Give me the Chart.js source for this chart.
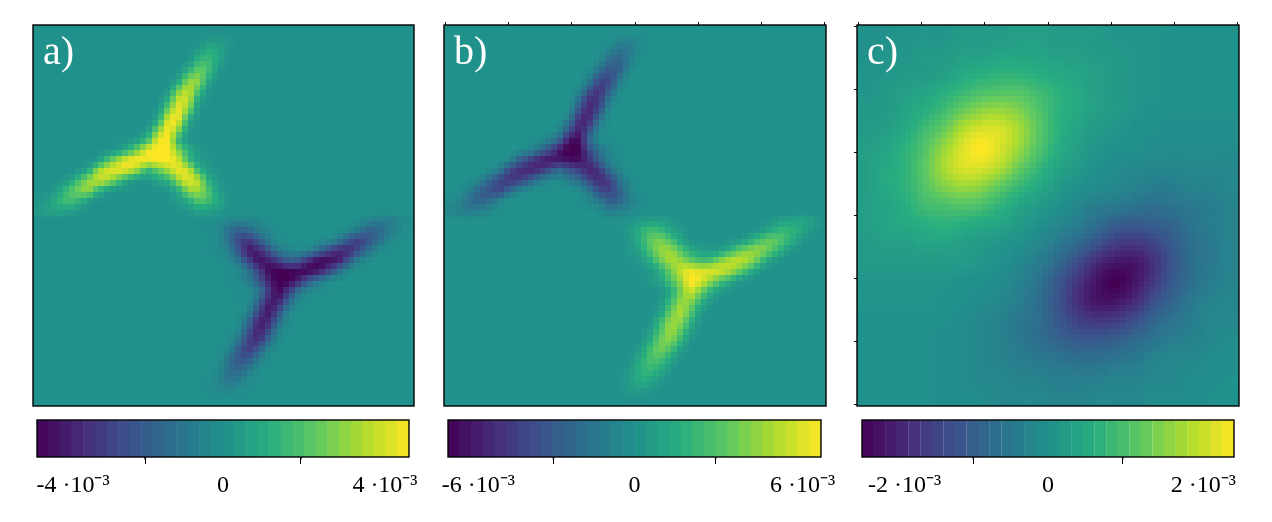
<!DOCTYPE html>
<html>
<head>
<meta charset="utf-8">
<script src="https://cdn.jsdelivr.net/npm/chart.js@4"></script>
<style>
  body { margin: 0; background: #fff; }
  canvas { position: absolute; }
</style>
</head>
<body>
<script>
// heatmap rows, values in 1e-4. each row: first column, then the values from there on.
// cells not listed sit at zero
const rowsA = [
  [],
  [16, 1, 3, 4, 2],
  [15, 1, 5, 11, 8, 2],
  [15, 3, 14, 16, 7, 1],
  [14, 2, 13, 24, 17, 3],
  [13, 1, 9, 29, 29, 9, 1],
  [13, 4, 26, 37, 20, 3],
  [12, 1, 14, 39, 36, 9, 1],
  [12, 4, 27, 44, 27, 4],
  [11, 1, 12, 42, 42, 12, 1],
  [10, 1, 6, 29, 46, 29, 5, 1],
  [8, 1, 3, 7, 20, 44, 45, 16, 3, 1],
  [7, 2, 6, 15, 29, 44, 48, 47, 29, 12, 4, 1],
  [5, 1, 6, 20, 34, 44, 46, 44, 46, 47, 40, 18, 6, 2],
  [4, 3, 11, 32, 41, 43, 39, 29, 15, 24, 34, 44, 39, 16, 5, 1],
  [2, 1, 6, 18, 31, 37, 33, 21, 9, 4, 3, 8, 14, 32, 42, 35, 12, 3, 0],
  [1, 1, 7, 18, 26, 29, 15, 6, 2, 1, 0, 0, 1, 3, 12, 30, 32, 19, 5, 1],
  [0, 2, 5, 13, 18, 14, 6, 1, 0, 0, 0, 0, 0, 0, 1, 5, 11, 21, 17, 8, 2, 0],
  [0, 3, 6, 7, 6, 3, 1, 0, 0, 0, 0, 0, 0, 0, 0, 1, 3, 7, 6, 3, 1],
  [18, -1, -3, -5, -5, -3, -1, 0, 0, 0, 0, 0, 0, 0, 0, -2, -5, -7, -7, -5, -2],
  [17, -1, -4, -11, -18, -15, -8, -4, -1, 0, 0, 0, 0, 0, -1, -4, -10, -16, -15, -9, -4, -1],
  [17, 0, -3, -12, -25, -31, -21, -9, -2, -1, 0, 0, -2, -4, -11, -22, -28, -22, -13, -4, -1],
  [17, -1, -3, -7, -22, -39, -37, -23, -11, -6, -4, -7, -16, -27, -35, -34, -25, -12, -4, -1],
  [18, -1, -3, -11, -28, -42, -39, -29, -20, -22, -35, -43, -43, -38, -21, -7, -2],
  [19, -1, -4, -12, -29, -44, -47, -45, -45, -45, -40, -28, -14, -4, -1],
  [19, -1, -3, -8, -21, -38, -48, -46, -37, -22, -11, -4, -1],
  [20, -1, -2, -10, -31, -45, -32, -14, -5, -2, -1],
  [20, -1, -3, -17, -38, -38, -18, -4, -1],
  [20, -1, -6, -26, -41, -26, -6, -1],
  [20, -2, -15, -36, -36, -15, -2],
  [19, -1, -5, -22, -38, -26, -7, -1],
  [19, -2, -11, -29, -32, -15, -3],
  [18, -1, -5, -19, -29, -19, -5, -1],
  [18, -2, -11, -21, -19, -8, -1],
  [17, -1, -4, -12, -15, -9, -2],
  [17, -1, -5, -10, -8, -3, -1],
  [17, -1, -3, -4, -2, -1],
  []
];
const rowsB = [
  [],
  [16, -1, -5, -6, -3],
  [15, -1, -8, -17, -12, -3],
  [15, -5, -20, -23, -11, -1],
  [14, -3, -19, -31, -24, -4],
  [13, -1, -13, -37, -37, -13, -1],
  [13, -7, -33, -46, -27, -4],
  [12, -1, -20, -49, -44, -13, -1],
  [12, -5, -34, -53, -34, -5],
  [11, -1, -16, -50, -50, -16, -1],
  [10, -1, -8, -34, -56, -34, -7, -1],
  [8, -1, -5, -11, -28, -60, -62, -23, -5, -1],
  [7, -3, -9, -22, -37, -58, -69, -66, -37, -18, -6, -1],
  [5, -1, -9, -28, -42, -54, -58, -58, -62, -62, -48, -25, -9, -3],
  [4, -4, -15, -38, -50, -53, -46, -35, -21, -32, -43, -54, -46, -21, -7, -1],
  [2, -1, -8, -24, -38, -45, -40, -27, -13, -6, -5, -12, -20, -40, -50, -42, -17, -5, -1],
  [1, -1, -10, -24, -33, -37, -21, -8, -3, -1, 0, 0, -1, -5, -16, -36, -40, -25, -7, -1],
  [0, -3, -7, -18, -24, -20, -9, -1, 0, 0, 0, 0, 0, 0, -1, -7, -15, -27, -23, -11, -3, 0],
  [0, -5, -9, -11, -9, -5, -1, 0, 0, 0, 0, 0, 0, 0, 0, 0, -4, -10, -9, -4, -1],
  [18, 2, 5, 8, 8, 5, 1, 0, 0, 0, 0, 0, 0, 0, 0, 3, 8, 11, 11, 8, 3],
  [17, 1, 6, 16, 25, 22, 12, 6, 1, 0, 0, 0, 0, 0, 1, 5, 14, 21, 20, 13, 5, 1],
  [17, 0, 4, 17, 33, 39, 29, 13, 3, 1, 0, 0, 3, 6, 16, 28, 35, 29, 18, 6, 1],
  [17, 1, 5, 11, 29, 45, 46, 31, 17, 9, 6, 11, 22, 35, 43, 43, 32, 17, 5, 1],
  [18, 1, 5, 17, 36, 50, 46, 35, 27, 29, 43, 52, 54, 46, 28, 10, 3],
  [19, 1, 6, 18, 37, 56, 64, 60, 60, 58, 49, 36, 20, 6, 1],
  [19, 1, 5, 12, 29, 47, 69, 62, 46, 30, 17, 6, 1],
  [20, 1, 3, 15, 39, 58, 41, 20, 8, 3, 1],
  [20, 1, 5, 22, 44, 44, 23, 6, 1],
  [20, 1, 9, 33, 50, 33, 9, 1],
  [20, 3, 21, 44, 44, 21, 3],
  [19, 1, 8, 29, 47, 34, 10, 1],
  [19, 3, 16, 37, 40, 21, 4],
  [18, 1, 8, 26, 37, 26, 8, 1],
  [18, 3, 15, 27, 25, 12, 1],
  [17, 1, 6, 18, 22, 14, 3],
  [17, 1, 8, 15, 12, 5, 1],
  [17, 1, 5, 6, 3, 1],
  []
];
const rowsC = [
  [0, 0, 0, 1, 1, 1, 2, 2, 2, 3, 3, 2, 2, 2, 1, 1, 1, 0, 0, 0, 0],
  [0, 0, 1, 1, 2, 2, 3, 3, 4, 4, 4, 3, 3, 2, 2, 1, 1, 0, 0, 0, 0],
  [0, 1, 1, 2, 2, 3, 5, 6, 7, 7, 6, 5, 4, 3, 2, 1, 1, 0, 0, 0, 0],
  [0, 1, 2, 3, 4, 6, 8, 10, 11, 11, 9, 7, 5, 3, 2, 1, 1, 0, 0, 0, 0],
  [0, 2, 2, 4, 6, 9, 13, 16, 17, 15, 11, 7, 5, 3, 2, 1, 0, 0, 0, 0, 0],
  [0, 2, 3, 5, 9, 13, 19, 22, 22, 18, 12, 7, 4, 2, 1, 0, 0, -1, -1, -1, -1],
  [0, 3, 4, 7, 11, 17, 22, 25, 22, 17, 11, 6, 3, 1, 0, 0, -1, -1, -1, -1, -1],
  [0, 3, 5, 7, 12, 18, 22, 22, 19, 13, 8, 4, 2, 0, -1, -2, -2, -2, -2, -2, -2],
  [0, 3, 5, 7, 11, 15, 17, 16, 12, 8, 5, 2, 0, -1, -2, -3, -4, -4, -3, -3, -2],
  [0, 3, 4, 6, 9, 10, 11, 10, 7, 4, 2, 0, -2, -4, -5, -6, -7, -6, -5, -4, -3],
  [0, 3, 4, 5, 6, 7, 6, 5, 4, 2, 0, -2, -4, -7, -10, -11, -10, -9, -6, -4, -3],
  [0, 2, 3, 3, 4, 4, 3, 2, 1, 0, -2, -5, -8, -12, -16, -17, -15, -11, -7, -5, -3],
  [0, 2, 2, 2, 2, 2, 2, 1, 0, -2, -4, -8, -13, -19, -22, -22, -18, -12, -7, -5, -3],
  [0, 1, 1, 1, 1, 1, 0, 0, -1, -3, -6, -11, -17, -22, -25, -22, -17, -11, -7, -4, -3],
  [0, 1, 1, 1, 1, 0, 0, -1, -2, -4, -7, -12, -18, -22, -22, -19, -13, -9, -5, -3, -2],
  [0, 0, 0, 0, 0, 0, -1, -2, -3, -5, -7, -11, -15, -17, -16, -13, -9, -6, -4, -2, -2],
  [0, 0, 0, 0, 0, -1, -1, -2, -3, -5, -7, -9, -11, -11, -10, -8, -6, -4, -3, -2, -1],
  [0, 0, 0, 0, 0, -1, -1, -2, -3, -4, -5, -6, -7, -7, -6, -5, -3, -2, -2, -1, -1],
  [0, 0, 0, 0, 0, -1, -1, -2, -2, -3, -3, -4, -4, -4, -3, -3, -2, -2, -1, -1, 0],
  [0, 0, 0, 0, 0, -1, -1, -1, -2, -2, -2, -3, -3, -2, -2, -2, -1, -1, -1, 0, 0]
];

// colour bar steps, values in 1e-3
const levelsA = [-4.62, -4.32, -4.03, -3.73, -3.43, -3.13, -2.83, -2.53, -2.24, -1.94, -1.64, -1.34, -1.04, -0.75, -0.45, -0.15,
  0.15, 0.45, 0.75, 1.04, 1.34, 1.64, 1.94, 2.24, 2.53, 2.83, 3.13, 3.43, 3.73, 4.03, 4.32, 4.62];
const levelsB = [-6.68, -6.25, -5.82, -5.39, -4.96, -4.53, -4.09, -3.66, -3.23, -2.80, -2.37, -1.94, -1.51, -1.08, -0.65, -0.22,
  0.22, 0.65, 1.08, 1.51, 1.94, 2.37, 2.80, 3.23, 3.66, 4.09, 4.53, 4.96, 5.39, 5.82, 6.25, 6.68];
const levelsC = [-2.41, -2.26, -2.10, -1.95, -1.79, -1.63, -1.48, -1.32, -1.17, -1.01, -0.86, -0.70, -0.54, -0.39, -0.23, -0.08,
  0.08, 0.23, 0.39, 0.54, 0.70, 0.86, 1.01, 1.17, 1.32, 1.48, 1.63, 1.79, 1.95, 2.10, 2.26, 2.41];

const ticksA = [-4, 0, 4];
const ticksB = [-6, 0, 6];
const ticksC = [-2, 0, 2];
const minorA = [-2, 2];
const minorB = [-3, 3];
const minorC = [-1, 1];
const frameTicks = [-3, -2, -1, 0, 1, 2, 3];

const viridis = ['#440154', '#472d7b', '#3b528b', '#2c728e', '#21918c', '#28ae80', '#5ec962', '#addc30', '#fde725'];
const viridisRgb = viridis.map(h => [1, 3, 5].map(i => parseInt(h.substr(i, 2), 16)));
const serif = '"Liberation Serif", serif';

function colorAt(t) {
  const p = Math.min(Math.max(t, 0), 1) * (viridisRgb.length - 1);
  const i = Math.min(Math.floor(p), viridisRgb.length - 2);
  const f = p - i;
  return viridisRgb[i].map((c, k) => c + (viridisRgb[i + 1][k] - c) * f);
}

function toCss(t) {
  const c = colorAt(t);
  return `rgb(${c[0] | 0},${c[1] | 0},${c[2] | 0})`;
}

function expandRows(rows, n) {
  return rows.map(r => {
    const line = new Array(n).fill(0);
    r.slice(1).forEach((v, k) => { line[r[0] + k] = v; });
    return line;
  });
}

function cubic(a, b, c, d, t) {
  return b + 0.5 * t * (c - a + t * (2 * a - 5 * b + 4 * c - d + t * (3 * (b - c) + d - a)));
}

// smooths the cells like imshow does, at 64 samples a side
const smoothCells = {
  id: 'smoothCells',
  afterDatasetsDraw(chart, args, opts) {
    const grid = opts.grid;
    const n = grid.length;
    const res = 64;
    const off = document.createElement('canvas');
    off.width = off.height = res;
    const octx = off.getContext('2d');
    const img = octx.createImageData(res, res);
    const at = (i, j) => grid[Math.min(Math.max(j, 0), n - 1)][Math.min(Math.max(i, 0), n - 1)];
    for (let py = 0; py < res; py++) {
      const gy = (py + 0.5) / res * n - 0.5;
      const j = Math.floor(gy);
      for (let px = 0; px < res; px++) {
        const gx = (px + 0.5) / res * n - 0.5;
        const i = Math.floor(gx);
        const col = [-1, 0, 1, 2].map(d =>
          cubic(at(i - 1, j + d), at(i, j + d), at(i + 1, j + d), at(i + 2, j + d), gx - i));
        const v = cubic(col[0], col[1], col[2], col[3], gy - j);
        const c = colorAt(0.5 + v / (2 * opts.max));
        const o = (py * res + px) * 4;
        img.data[o] = c[0];
        img.data[o + 1] = c[1];
        img.data[o + 2] = c[2];
        img.data[o + 3] = 255;
      }
    }
    octx.putImageData(img, 0, 0);
    const sx = chart.scales.x, sy = chart.scales.y;
    const ctx = chart.ctx;
    ctx.save();
    ctx.imageSmoothingEnabled = false;
    ctx.drawImage(off, sx.getPixelForValue(0), sy.getPixelForValue(0),
      sx.getPixelForValue(n) - sx.getPixelForValue(0), sy.getPixelForValue(n) - sy.getPixelForValue(0));
    ctx.restore();
  }
};

const frame = {
  id: 'frame',
  afterDraw(chart, args, opts) {
    const a = chart.chartArea;
    const ctx = chart.ctx;
    ctx.save();
    ctx.strokeStyle = '#000';
    ctx.lineWidth = 1.4;
    ctx.strokeRect(a.left, a.top, a.right - a.left, a.bottom - a.top);
    if (opts.letter) {
      ctx.fillStyle = '#fff';
      ctx.font = '40px ' + serif;
      ctx.fillText(opts.letter, a.left + 10, a.top + 39);
    }
    (opts.minor || []).forEach(v => {
      const x = chart.scales.x.getPixelForValue(v);
      ctx.beginPath();
      ctx.moveTo(x, a.bottom);
      ctx.lineTo(x, a.bottom + 2.5);
      ctx.stroke();
    });
    ctx.restore();
  }
};

function addCanvas(left, top, w, h) {
  const c = document.createElement('canvas');
  c.width = w;
  c.height = h;
  c.style.left = left + 'px';
  c.style.top = top + 'px';
  document.body.appendChild(c);
  return c;
}

function drawPanel(left, size, rows, max, letter, showTop, showLeft) {
  const n = rows.length;
  const grid = expandRows(rows, n);
  const points = [];
  grid.forEach((line, j) => line.forEach((v, i) => points.push({ x: i + 0.5, y: j + 0.5, v: v })));
  const edgeTicks = {
    type: 'linear', min: -3.02, max: 3.02,
    ticks: { display: false },
    border: { display: false },
    grid: { drawOnChartArea: false, tickLength: 3, color: '#000', lineWidth: 1 },
    afterBuildTicks(s) { s.ticks = frameTicks.map(value => ({ value })); }
  };
  const scales = {
    x: { type: 'linear', min: 0, max: n, display: false },
    y: { type: 'linear', min: 0, max: n, reverse: true, display: false }
  };
  if (showTop) scales.xTop = { ...edgeTicks, axis: 'x', position: 'top', afterFit(s) { s.height = 0; } };
  if (showLeft) scales.yLeft = { ...edgeTicks, axis: 'y', position: 'left', afterFit(s) { s.width = 0; } };
  new Chart(addCanvas(left - 10, 15, size + 20, 401), {
    type: 'scatter',
    data: {
      datasets: [{
        data: points,
        pointStyle: 'rect',
        pointRadius: size / n * 0.75,
        pointBorderWidth: 0,
        backgroundColor: c => toCss(0.5 + (c.raw ? c.raw.v : 0) / (2 * max))
      }]
    },
    plugins: [smoothCells, frame],
    options: {
      responsive: false,
      animation: false,
      events: [],
      layout: { autoPadding: false, padding: { left: 10, right: 10, top: 10, bottom: 10 } },
      scales: scales,
      plugins: {
        legend: { display: false },
        tooltip: { enabled: false },
        smoothCells: { grid: grid, max: max },
        frame: { letter: letter }
      }
    }
  });
}

function drawBar(left, width, levels, max, ticks, minor) {
  new Chart(addCanvas(left - 30, 410, width + 60, 100), {
    type: 'bar',
    data: {
      datasets: [{
        data: levels.map(v => ({ x: v, y: 1 })),
        backgroundColor: levels.map(v => toCss(0.5 + v / (2 * max))),
        borderWidth: 0,
        barPercentage: 1.08,
        categoryPercentage: 1
      }]
    },
    plugins: [frame],
    options: {
      responsive: false,
      animation: false,
      events: [],
      layout: { autoPadding: false, padding: { left: 30, right: 30, top: 10, bottom: 0 } },
      scales: {
        x: {
          type: 'linear', min: -max, max: max, offset: false,
          border: { display: false },
          grid: { drawOnChartArea: false, tickLength: 7, color: '#000', lineWidth: 1 },
          ticks: {
            autoSkip: false, maxRotation: 0, padding: 7, color: '#000',
            font: { family: serif, size: 24 },
            callback: v => v === 0 ? '0' : '  ' + v + ' ·10⁻³'
          },
          afterBuildTicks(s) { s.ticks = ticks.map(value => ({ value })); },
          afterFit(s) { s.height = 53; }
        },
        y: { min: 0, max: 1, display: false }
      },
      plugins: {
        legend: { display: false },
        tooltip: { enabled: false },
        frame: { minor: minor }
      }
    }
  });
}

drawPanel(33, 381, rowsA, 47.7, 'a)', false, false);
drawPanel(444, 382, rowsB, 69, 'b)', true, false);
drawPanel(857, 382, rowsC, 24.9, 'c)', true, true);
drawBar(37, 372, levelsA, 4.77, ticksA, minorA);
drawBar(448, 373, levelsB, 6.9, ticksB, minorB);
drawBar(862, 372, levelsC, 2.49, ticksC, minorC);
</script>
</body>
</html>
